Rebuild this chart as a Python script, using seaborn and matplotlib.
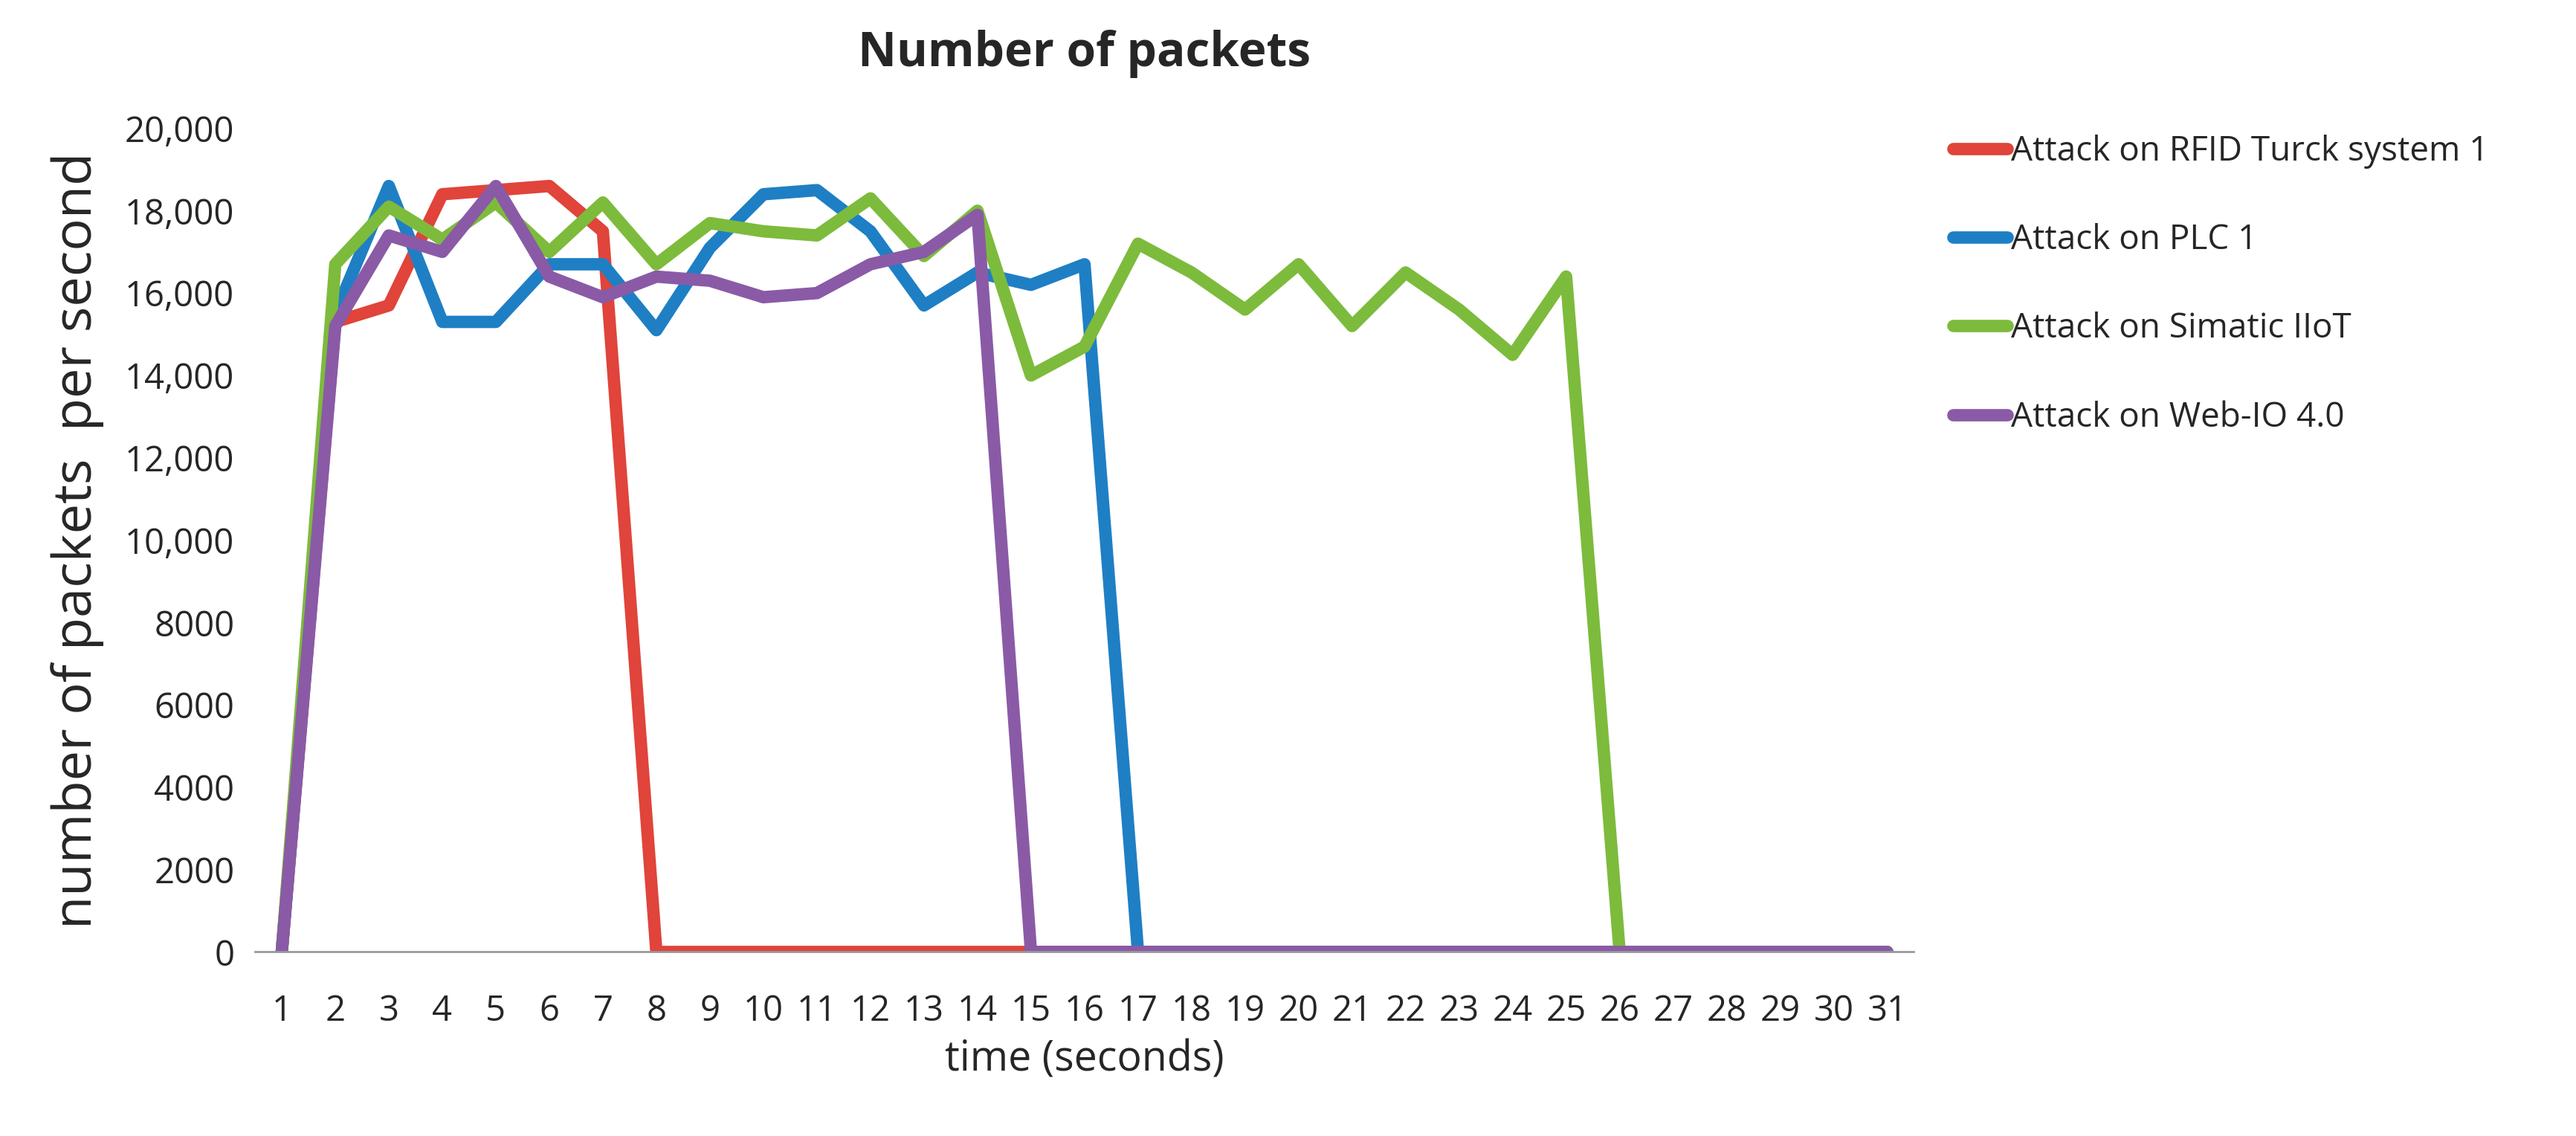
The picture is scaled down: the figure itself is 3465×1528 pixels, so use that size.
import matplotlib
matplotlib.use("Agg")
import matplotlib.pyplot as plt
import seaborn as sns
import pandas as pd
from matplotlib.ticker import FuncFormatter

time = list(range(1, 32))
rfid = [0, 15300, 15700, 18400, 18500, 18600, 17500] + [0] * 24
plc = [0, 15500, 18600, 15300, 15300, 16700, 16700, 15100, 17100, 18400, 18500,
       17500, 15700, 16500, 16200, 16700] + [0] * 15
simatic = [0, 16700, 18100, 17300, 18200, 17000, 18200, 16700, 17700, 17500, 17400,
           18300, 16900, 18000, 14000, 14700, 17200, 16500, 15600, 16700, 15200,
           16500, 15600, 14500, 16400] + [0] * 6
webio = [0, 15200, 17400, 17000, 18600, 16400, 15900, 16400, 16300, 15900, 16000,
         16700, 17000, 17900] + [0] * 17
labels = ["Attack on RFID Turck system 1", "Attack on PLC 1",
          "Attack on Simatic IIoT", "Attack on Web-IO 4.0"]
colors = ["#e0443a", "#1f7fc4", "#7dbb3c", "#8a5aa6"]

rows = []
for lab, vals in zip(labels, [rfid, plc, simatic, webio]):
    for t, v in zip(time, vals):
        rows.append({"time": t, "value": v, "series": lab})
df = pd.DataFrame(rows)

sns.set_style("white")
plt.rcParams["font.family"] = ["Open Sans", "DejaVu Sans"]
fig = plt.figure(figsize=(34.65, 15.28), dpi=100)
ax = fig.add_axes([0.099, 0.162, 0.644, 0.725])
sns.lineplot(data=df, x="time", y="value", hue="series", palette=colors,
             hue_order=labels, linewidth=12, ax=ax, legend=True)
ax.set_xlim(0.5, 31.5)
ax.set_ylim(0, 20000)
ax.set_xticks(time)
ax.set_yticks(range(0, 20001, 2000))
ax.yaxis.set_major_formatter(FuncFormatter(lambda v, p: f"{int(v):,}" if v >= 10000 else f"{int(v)}"))
ax.tick_params(axis="both", labelsize=34, length=0)
ax.tick_params(axis="x", pad=40)
ax.tick_params(axis="y", pad=20)
for s in ["top", "right", "left"]:
    ax.spines[s].set_visible(False)
ax.spines["bottom"].set_color("#999999")
ax.spines["bottom"].set_linewidth(2)
ax.set_xlabel("time (seconds)", fontsize=40, labelpad=10)
ax.set_ylabel("number of packets  per second", fontsize=52, labelpad=20)
ax.set_title("Number of packets", fontsize=46, fontweight="bold", pad=60)
leg = ax.legend(loc="upper left", bbox_to_anchor=(1.005, 1.03), frameon=False,
                fontsize=33, handlelength=1.6, labelspacing=1.6, handletextpad=0.1)
for h in leg.get_lines():
    h.set_linewidth(12)
fig.savefig("out.png", dpi=100)
